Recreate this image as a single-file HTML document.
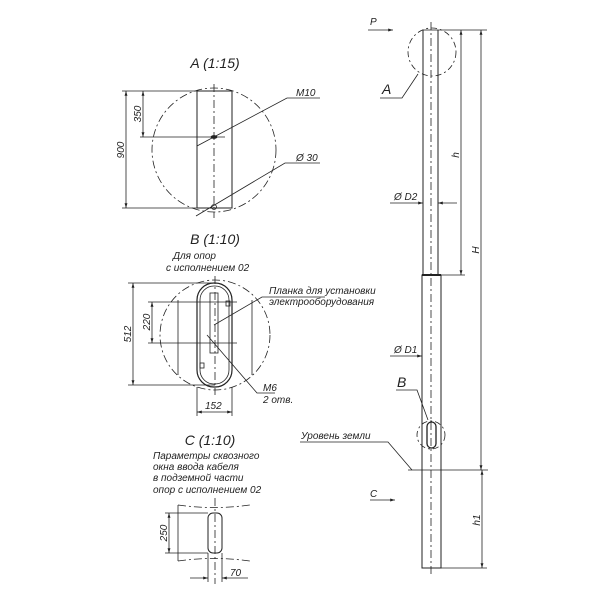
<!DOCTYPE html>
<html><head><meta charset="utf-8"><style>
html,body{margin:0;padding:0;background:#fff}
svg{display:block}
text{font-family:"Liberation Sans","DejaVu Sans",sans-serif;font-style:italic;fill:#222}
</style></head><body>
<svg width="600" height="600" viewBox="0 0 600 600" xmlns="http://www.w3.org/2000/svg">
<defs>
<marker id="ar" viewBox="0 0 10 10" refX="10" refY="5" markerWidth="6" markerHeight="6" orient="auto-start-reverse"><path d="M0,2 L10,5 L0,8 z" fill="#222"/></marker>
</defs>
<g stroke="#222" stroke-width="0.8" fill="none">
<!-- Detail A -->
<circle cx="214" cy="150" r="62" stroke-dasharray="8,3,2,3"/>
<rect x="197" y="91" width="35" height="117" stroke-width="1"/>
<line x1="214" y1="84" x2="214" y2="218" stroke-dasharray="8,3,2,3"/>
<line x1="122" y1="91" x2="197" y2="91"/>
<line x1="122" y1="208" x2="197" y2="208"/>
<line x1="140" y1="137" x2="225" y2="137"/>
<line x1="126" y1="91" x2="126" y2="208" marker-start="url(#ar)" marker-end="url(#ar)"/>
<line x1="143" y1="91" x2="143" y2="137" marker-start="url(#ar)" marker-end="url(#ar)"/>
<polyline points="197,146 287,98 320,98"/>
<polyline points="196,216 285,163 320,163"/>
<ellipse cx="214" cy="137" rx="3" ry="1.5" fill="#222"/>
<circle cx="214" cy="207" r="2.5"/>
<!-- Detail B -->
<circle cx="215" cy="335" r="55" stroke-dasharray="8,3,2,3"/>
<rect x="197" y="283" width="35" height="104" rx="17" stroke-width="1.2"/>
<rect x="200" y="286" width="29" height="98" rx="14"/>
<rect x="210" y="293" width="8" height="60"/>
<line x1="215" y1="276" x2="215" y2="395" stroke-dasharray="8,3,2,3"/>
<line x1="128" y1="283" x2="215" y2="283"/>
<line x1="128" y1="385" x2="215" y2="385"/>
<line x1="148" y1="302" x2="237" y2="302"/>
<line x1="148" y1="343" x2="237" y2="343"/>
<line x1="178" y1="300" x2="178" y2="375"/>
<line x1="252" y1="300" x2="252" y2="375"/>
<line x1="133" y1="283" x2="133" y2="385" marker-start="url(#ar)" marker-end="url(#ar)"/>
<line x1="152" y1="302" x2="152" y2="343" marker-start="url(#ar)" marker-end="url(#ar)"/>
<line x1="197" y1="387" x2="197" y2="416"/>
<line x1="232" y1="387" x2="232" y2="416"/>
<line x1="197" y1="412" x2="232" y2="412" marker-start="url(#ar)" marker-end="url(#ar)"/>
<polyline points="214,325 262,297 325,297"/>
<polyline points="207,335 257,393 275,393"/>
<rect x="226" y="301" width="4" height="5"/>
<rect x="200" y="363" width="4" height="5"/>
<!-- Detail C -->
<path d="M178,505 Q214,510 250,505" stroke-dasharray="8,3,2,3"/>
<path d="M178,561 Q214,556 250,561" stroke-dasharray="8,3,2,3"/>
<line x1="178" y1="505" x2="178" y2="561"/>
<rect x="208" y="513" width="14" height="40" rx="5" stroke-width="1"/>
<line x1="215" y1="498" x2="215" y2="584" stroke-dasharray="8,3,2,3"/>
<line x1="165" y1="513" x2="208" y2="513"/>
<line x1="165" y1="553" x2="208" y2="553"/>
<line x1="169" y1="513" x2="169" y2="553" marker-start="url(#ar)" marker-end="url(#ar)"/>
<line x1="208" y1="553" x2="208" y2="582"/>
<line x1="222" y1="553" x2="222" y2="582"/>
<line x1="190" y1="578" x2="208" y2="578" marker-end="url(#ar)"/>
<line x1="248" y1="578" x2="222" y2="578" marker-end="url(#ar)"/>
<!-- Pole -->
<line x1="423" y1="30" x2="423" y2="275" stroke-width="1"/>
<line x1="438" y1="30" x2="438" y2="275" stroke-width="1"/>
<line x1="423" y1="30" x2="438" y2="30"/>
<rect x="422" y="275" width="19" height="293" stroke-width="1"/>
<line x1="422" y1="275" x2="441" y2="275" stroke-width="2"/>
<line x1="431" y1="22" x2="431" y2="576" stroke-dasharray="8,3,2,3"/>
<circle cx="432" cy="52" r="24" stroke-dasharray="6,3,2,3"/>
<polyline points="418,74 402,98 380,98"/>
<line x1="368" y1="30" x2="393" y2="30" marker-end="url(#ar)"/>
<line x1="438" y1="30" x2="487" y2="30"/>
<line x1="441" y1="275" x2="465" y2="275"/>
<line x1="441" y1="568" x2="487" y2="568"/>
<line x1="408" y1="470" x2="488" y2="470"/>
<line x1="461" y1="30" x2="461" y2="275" marker-start="url(#ar)" marker-end="url(#ar)"/>
<line x1="481" y1="30" x2="481" y2="470" marker-start="url(#ar)" marker-end="url(#ar)"/>
<line x1="482" y1="470" x2="482" y2="568" marker-start="url(#ar)" marker-end="url(#ar)"/>
<line x1="390" y1="203" x2="423" y2="203" marker-end="url(#ar)"/>
<line x1="457" y1="203" x2="438" y2="203" marker-end="url(#ar)"/>
<line x1="390" y1="356" x2="422" y2="356" marker-end="url(#ar)"/>
<line x1="441" y1="356" x2="441" y2="356"/>
<circle cx="431" cy="435" r="14" stroke-dasharray="6,3,2,3"/>
<rect x="427" y="422" width="9" height="26" rx="4.5" stroke-width="1.3"/>
<polyline points="396,390 417,390 428,420"/>
<polyline points="300,442 388,442 412,470"/>
<line x1="370" y1="500" x2="395" y2="500" marker-end="url(#ar)"/>
</g>
<g font-size="14">
<text x="215" y="68" text-anchor="middle">A (1:15)</text>
<text x="215" y="244" text-anchor="middle">B (1:10)</text>
<text x="210" y="445" text-anchor="middle">C (1:10)</text>
<text x="382" y="94">A</text>
<text x="397" y="387">B</text>
</g>
<g font-size="10">
<text x="296" y="96">M10</text>
<text x="296" y="161">Ø 30</text>
<text transform="translate(124,150) rotate(-90)" text-anchor="middle">900</text>
<text transform="translate(141,114) rotate(-90)" text-anchor="middle">350</text>
<text x="173" y="259">Для опор</text>
<text x="166" y="271">с исполнением 02</text>
<text transform="translate(131,334) rotate(-90)" text-anchor="middle">512</text>
<text transform="translate(150,322) rotate(-90)" text-anchor="middle">220</text>
<text x="205" y="409">152</text>
<text x="269" y="294">Планка для установки</text>
<text x="269" y="305">электрооборудования</text>
<text x="263" y="391">M6</text>
<text x="263" y="403">2 отв.</text>
<text x="153" y="459">Параметры сквозного</text>
<text x="153" y="470">окна ввода кабеля</text>
<text x="153" y="481">в подземной части</text>
<text x="153" y="493">опор с исполнением 02</text>
<text transform="translate(167,533) rotate(-90)" text-anchor="middle">250</text>
<text x="230" y="576">70</text>
<text x="370" y="25">P</text>
<text x="394" y="200">Ø D2</text>
<text x="394" y="353">Ø D1</text>
<text x="301" y="439">Уровень земли</text>
<text x="370" y="497">C</text>
<text transform="translate(459,155) rotate(-90)" text-anchor="middle">h</text>
<text transform="translate(479,250) rotate(-90)" text-anchor="middle">H</text>
<text transform="translate(480,520) rotate(-90)" text-anchor="middle">h1</text>
</g>
</svg>
</body></html>
